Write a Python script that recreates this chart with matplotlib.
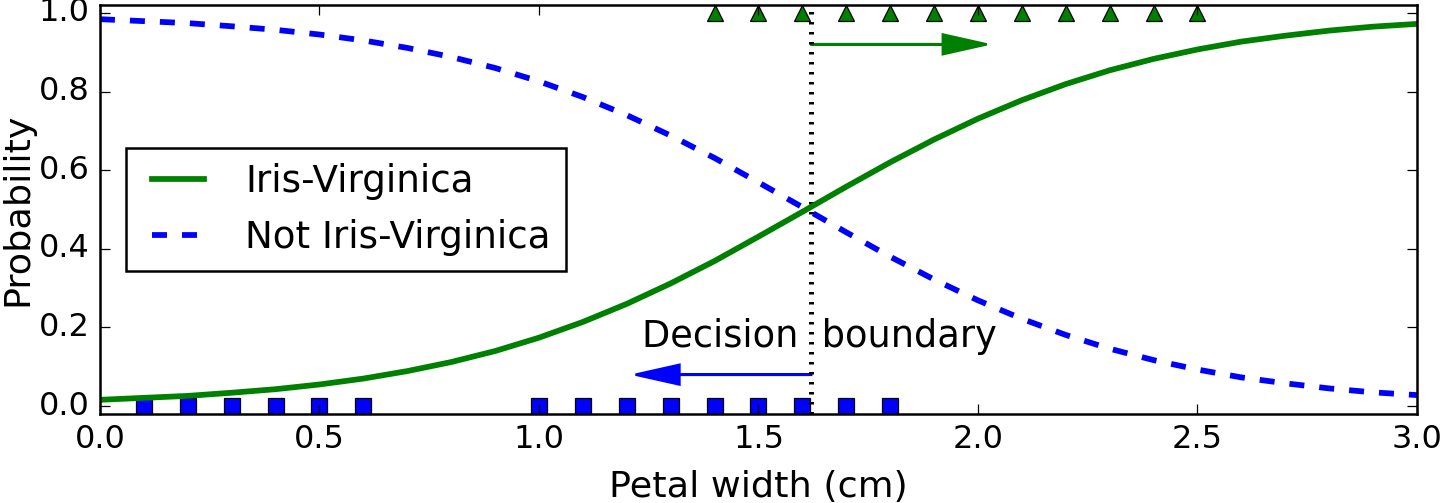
import matplotlib
matplotlib.use("Agg")
from matplotlib import pyplot as plt

# petal width grid and probabilities
petal_width = [0.0, 0.1, 0.2, 0.3, 0.4, 0.5, 0.6, 0.7, 0.8, 0.9, 1.0,
               1.1, 1.2, 1.3, 1.4, 1.5, 1.6, 1.7, 1.8, 1.9, 2.0,
               2.1, 2.2, 2.3, 2.4, 2.5, 2.6, 2.7, 2.8, 2.9, 3.0]
p_virginica = [0.016, 0.021, 0.026, 0.034, 0.043, 0.055, 0.070, 0.089, 0.112, 0.140, 0.174,
               0.214, 0.260, 0.312, 0.369, 0.431, 0.494, 0.558, 0.620, 0.678, 0.731,
               0.778, 0.819, 0.854, 0.883, 0.907, 0.927, 0.942, 0.955, 0.965, 0.972]
p_not_virginica = [0.984, 0.979, 0.974, 0.966, 0.957, 0.945, 0.930, 0.911, 0.888, 0.860, 0.826,
                   0.786, 0.740, 0.688, 0.631, 0.569, 0.506, 0.442, 0.380, 0.322, 0.269,
                   0.222, 0.181, 0.146, 0.117, 0.093, 0.073, 0.058, 0.045, 0.035, 0.028]

# training samples
neg_x = [0.1, 0.2, 0.3, 0.4, 0.5, 0.6, 1.0, 1.1, 1.2, 1.3, 1.4, 1.5, 1.6, 1.7, 1.8]
neg_y = [0] * len(neg_x)
pos_x = [1.4, 1.5, 1.6, 1.7, 1.8, 1.9, 2.0, 2.1, 2.2, 2.3, 2.4, 2.5]
pos_y = [1] * len(pos_x)

decision_boundary = 1.62

plt.style.use('classic')
plt.rcParams['font.family'] = ['DejaVu Sans']
fig = plt.figure(figsize=(8, 503 / 180), dpi=180, facecolor='white')
fig.subplots_adjust(left=0.0694, right=0.984, top=0.990, bottom=0.177)
ax = fig.add_subplot(111)

ax.plot(neg_x, neg_y, "bs", markersize=6.5)
ax.plot(pos_x, pos_y, "g^", markersize=6.5)
ax.plot([decision_boundary, decision_boundary], [-1, 2], "k:", linewidth=2)
ax.plot(petal_width, p_virginica, "g-", linewidth=2.3, label="Iris-Virginica")
ax.plot(petal_width, p_not_virginica, "b--", linewidth=2.3, label="Not Iris-Virginica")
ax.text(decision_boundary + 0.02, 0.15, "Decision  boundary", fontsize=14.7, color="k", ha="center")
ax.arrow(decision_boundary, 0.08, -0.3, 0, head_width=0.05, head_length=0.1, fc='b', ec='b')
ax.arrow(decision_boundary, 0.92, 0.3, 0, head_width=0.05, head_length=0.1, fc='g', ec='g')
ax.set_xlabel("Petal width (cm)", fontsize=14.6, labelpad=6)
ax.set_ylabel("Probability", fontsize=14.6, labelpad=2)
ax.legend(loc="center left", fontsize=14.9, borderaxespad=0.7)
ax.axis([0, 3, -0.02, 1.02])
ax.tick_params(labelsize=12.8)

fig.savefig("out.png", dpi=180, facecolor='white')
